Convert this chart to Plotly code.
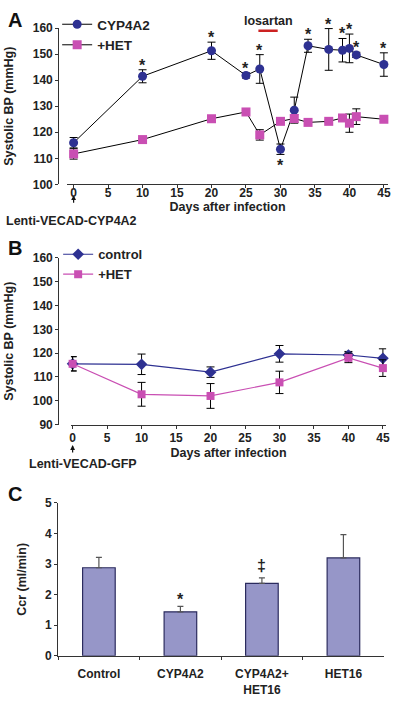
import plotly.graph_objects as go

W, H = 400, 703
def px(x): return x / W
def py(y): return 1 - y / H

# ---------- Panel A data ----------
days_a = [0, 10, 20, 25, 27, 30, 32, 34, 37, 39, 40, 41, 45]
cyp_a = [116, 141.5, 151.3, 141.8, 144.3, 113.5, 128.5, 153.2, 151.8, 151.5, 152.2, 149.7, 146]
cyp_a_err = [2, 2.5, 3.3, 1, 5.5, 2, 5, 2.5, 8, 4.5, 5.5, 1, 4.5]
het_a = [111.7, 117.2, 125.2, 127.8, 119, 124.2, 125.3, 123.8, 124.2, 125.5, 123.5, 126, 125]
het_a_err = [2, 0.5, 0.5, 0.5, 2, 0.5, 1.5, 0.5, 0.5, 1, 3.5, 3, 1]
star_above_days = [10, 20, 25, 27, 34, 37, 39, 40, 41, 45]
star_below_days = [30]
losartan_days = [26.8, 29.6]
losartan_level = 159

# ---------- Panel B data ----------
days_b = [0, 10, 20, 30, 40, 45]
ctrl_b = [115.5, 115.3, 112, 119.7, 119.2, 117.8]
ctrl_b_err = [3, 4.3, 2.2, 3.5, 1.5, 4]
het_b = [115.5, 102.7, 102, 107.7, 118, 113.7]
het_b_err = [3, 5, 5.2, 4.7, 2, 3.5]

# ---------- Panel C data ----------
groups_c = ["Control", "CYP4A2", "CYP4A2+<br>HET16", "HET16"]
ccr = [2.88, 1.44, 2.37, 3.2]
ccr_err = [0.34, 0.18, 0.18, 0.76]
marks_c = ["", "*", "‡", ""]

NAVY = "#2E3192"
PINK = "#C94FB3"
BAR = "#9696C8"
FONT = "Liberation Sans, Arial, sans-serif"

fig = go.Figure()

# Panel A
fig.add_trace(go.Scatter(
    x=days_a, y=cyp_a, name="CYP4A2", mode="lines+markers",
    line=dict(color="black", width=1),
    marker=dict(symbol="circle", size=9, color=NAVY),
    error_y=dict(type="data", array=cyp_a_err, color="black", thickness=1, width=4),
    xaxis="x", yaxis="y", legend="legend", cliponaxis=False))
fig.add_trace(go.Scatter(
    x=days_a, y=het_a, name="+HET", mode="lines+markers",
    line=dict(color="black", width=1),
    marker=dict(symbol="square", size=9, color=PINK),
    error_y=dict(type="data", array=het_a_err, color="black", thickness=1, width=4),
    xaxis="x", yaxis="y", legend="legend", cliponaxis=False))

# Panel B
fig.add_trace(go.Scatter(
    x=days_b, y=ctrl_b, name="control", mode="lines+markers",
    line=dict(color=NAVY, width=1.2),
    marker=dict(symbol="diamond", size=9, color=NAVY),
    error_y=dict(type="data", array=ctrl_b_err, color="black", thickness=1, width=4),
    xaxis="x2", yaxis="y2", legend="legend2", cliponaxis=False))
fig.add_trace(go.Scatter(
    x=days_b, y=het_b, name="+HET", mode="lines+markers",
    line=dict(color=PINK, width=1.2),
    marker=dict(symbol="square", size=8, color=PINK),
    error_y=dict(type="data", array=het_b_err, color="black", thickness=1, width=4),
    xaxis="x2", yaxis="y2", legend="legend2", cliponaxis=False))

# Panel C
fig.add_trace(go.Bar(
    x=groups_c, y=ccr, width=0.4, showlegend=False,
    marker=dict(color=BAR, line=dict(color="#2B2B5E", width=1.2)),
    error_y=dict(type="data", symmetric=False, array=ccr_err, arrayminus=[0]*4,
                 color="#555555", thickness=1.2, width=3),
    xaxis="x3", yaxis="y3", cliponaxis=False))

tickfont = dict(family=FONT, size=12, color="#222", weight="bold")
titlefont = dict(family=FONT, size=12.5, color="#222", weight="bold")
axcommon = dict(showline=True, linecolor="#333", linewidth=1, ticks="outside",
                ticklen=3, tickcolor="#333", showgrid=False, zeroline=False,
                tickfont=tickfont)

fig.update_layout(
    width=W, height=H, margin=dict(l=0, r=0, t=0, b=0),
    paper_bgcolor="white", plot_bgcolor="white",
    font=dict(family=FONT, color="#222"),
    xaxis=dict(domain=[px(66), px(392)], range=[(66-72.7)/7, (392-72.7)/7],
               anchor="y", tickvals=list(range(0, 50, 5)), ticklabelstandoff=-6,
               title=dict(text="Days after infection", font=titlefont, standoff=0),
               **axcommon),
    yaxis=dict(domain=[py(181), py(21.5)], range=[100, 160], anchor="free",
               position=px(57), tickvals=list(range(100, 161, 10)),
               title=dict(text="Systolic BP (mmHg)", font=titlefont),
               **axcommon),
    xaxis2=dict(domain=[px(70), px(390)], range=[(70-71.7)/7, (390-71.7)/7],
                anchor="y2", tickvals=list(range(0, 50, 5)), ticklabelstandoff=-1,
                title=dict(text="Days after infection", font=titlefont, standoff=4),
                **axcommon),
    yaxis2=dict(domain=[py(426), py(256)], range=[90, 160], anchor="free",
                position=px(57), tickvals=list(range(90, 161, 10)),
                title=dict(text="Systolic BP (mmHg)", font=titlefont),
                **axcommon),
    xaxis3=dict(domain=[px(57), px(388)], range=[-0.5, 3.5], anchor="y3",
                tickson="boundaries", type="category", ticklabelstandoff=7, **axcommon),
    yaxis3=dict(domain=[py(662), py(506)], range=[0, 5], anchor="x3",
                tickvals=list(range(0, 6)),
                title=dict(text="Ccr (ml/min)", font=titlefont),
                **axcommon),
    legend=dict(x=px(56), y=py(2), xanchor="left", yanchor="top",
                bgcolor="rgba(0,0,0,0)", font=dict(family=FONT, size=13.5, weight="bold"),
                tracegroupgap=0, itemwidth=30),
    legend2=dict(x=px(57), y=py(237), xanchor="left", yanchor="top",
                 bgcolor="rgba(0,0,0,0)", font=dict(family=FONT, size=13, weight="bold"),
                 tracegroupgap=0, itemwidth=30),
)

ann = []
# panel letters
for letter, yy in [("A", 13), ("B", 246), ("C", 497)]:
    ann.append(dict(text=letter, x=px(4), y=py(yy), xref="paper", yref="paper",
                    xanchor="left", yanchor="middle", showarrow=False,
                    font=dict(family=FONT, size=20, weight="bold", color="#111")))
# stars panel A
for d in star_above_days:
    i = days_a.index(d)
    ann.append(dict(text="*", x=d, y=cyp_a[i] + cyp_a_err[i], xref="x", yref="y",
                    yanchor="bottom", yshift=-6, showarrow=False,
                    font=dict(family=FONT, size=16, weight="bold", color="#222")))
for d in star_below_days:
    i = days_a.index(d)
    ann.append(dict(text="*", x=d, y=cyp_a[i] - cyp_a_err[i], xref="x", yref="y",
                    yanchor="top", yshift=-1, showarrow=False,
                    font=dict(family=FONT, size=16, weight="bold", color="#222")))
# losartan
ann.append(dict(text="losartan", x=sum(losartan_days)/2, y=losartan_level, xref="x", yref="y",
                yanchor="bottom", yshift=1, showarrow=False,
                font=dict(family=FONT, size=12.5, weight="bold", color="#222")))
# arrows and vector labels
for xr, ytip, ylab, label, xs in [("x", 192, 218, "Lenti-VECAD-CYP4A2", -2),
                                   ("x2", 447, 466, "Lenti-VECAD-GFP", 10)]:
    ann.append(dict(text="", x=0, y=py(ytip), xref=xr, yref="paper",
                    showarrow=True, arrowhead=2, arrowsize=0.8, arrowwidth=1.2,
                    arrowcolor="#111", ax=0, ay=9))
    ann.append(dict(text=label, x=0, y=py(ylab), xref=xr, yref="paper", xshift=xs,
                    xanchor="center", yanchor="middle", showarrow=False,
                    font=dict(family=FONT, size=12.5, weight="bold", color="#222")))
# marks panel C
for g, v, e, m in zip(groups_c, ccr, ccr_err, marks_c):
    if m:
        ann.append(dict(text=m, x=g, y=v + e, xref="x3", yref="y3",
                        yanchor="bottom", yshift=2 if m == "‡" else -4, showarrow=False,
                        font=dict(family=FONT, size=16, weight="bold", color="#222")))
fig.update_layout(annotations=ann)

fig.add_shape(type="line", x0=losartan_days[0], x1=losartan_days[1],
              y0=losartan_level, y1=losartan_level, xref="x", yref="y",
              line=dict(color="#CC2222", width=2.5))

fig.write_html("out.html", config={"displayModeBar": False},
               post_script="document.body.style.margin='0';document.body.style.overflow='hidden';")
